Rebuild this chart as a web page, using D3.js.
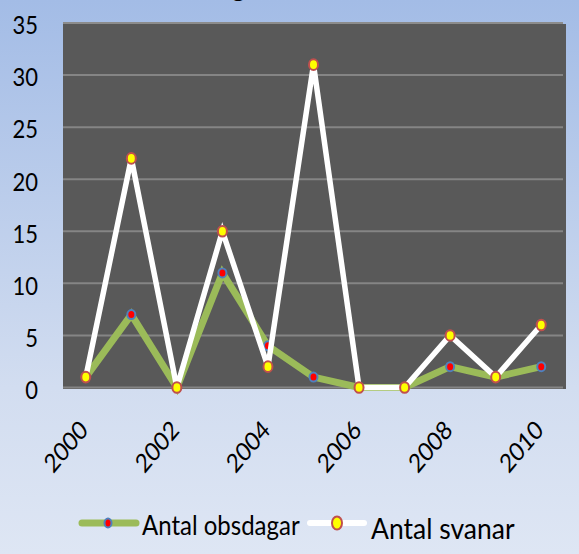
<!DOCTYPE html>
<html>
<head>
<meta charset="utf-8">
<script src="https://cdn.jsdelivr.net/npm/d3@7.9.0/dist/d3.min.js"></script>
<style>
  html, body { margin: 0; padding: 0; }
  body { width: 579px; height: 554px; overflow: hidden; }
  text { font-family: Lato, "Open Sans", sans-serif; fill: #000; }
</style>
</head>
<body>
<svg id="chart" width="579" height="554"></svg>
<script>
const years = [2000, 2001, 2002, 2003, 2004, 2005, 2006, 2007, 2008, 2009, 2010];
const obsdagar = [1, 7, 0, 11, 4, 1, 0, 0, 2, 1, 2];
const svanar = [1, 22, 0, 15, 2, 31, 0, 0, 5, 1, 6];
const yTicks = [0, 5, 10, 15, 20, 25, 30, 35];
const xLabels = [2000, 2002, 2004, 2006, 2008, 2010];
const seriesNames = ['Antal obsdagar', 'Antal svanar'];

const svg = d3.select('#chart');
const W = 579, H = 554;
const plot = { left: 63, right: 566, top: 23, bottom: 388 };
const stretch = 1.18; // the reference text looks stretched vertically

// background gradient
const defs = svg.append('defs');
const grad = defs.append('linearGradient')
  .attr('id', 'bg').attr('x1', 0).attr('y1', 0).attr('x2', 0).attr('y2', 1);
grad.append('stop').attr('offset', '0%').attr('stop-color', '#a3bce6');
grad.append('stop').attr('offset', '70%').attr('stop-color', '#d2ddf0');
grad.append('stop').attr('offset', '100%').attr('stop-color', '#dee6f4');
svg.append('rect').attr('width', W).attr('height', H).attr('fill', 'url(#bg)');

// title (mostly cut off at the top, as in the reference)
svg.append('text')
  .attr('transform', `translate(186,-4) scale(1,${stretch})`)
  .style('font-weight', 'bold')
  .style('font-size', '28px')
  .text('Sångsvan');

const x = d3.scalePoint()
  .domain(years)
  .range([plot.left, plot.right - 2])
  .padding(0.5);
const y = d3.scaleLinear().domain([0, 35]).range([387.5, 23]);

svg.append('rect')
  .attr('x', plot.left).attr('y', 24)
  .attr('width', plot.right - plot.left).attr('height', plot.bottom + 1 - 24)
  .attr('fill', '#595959');

svg.append('g')
  .selectAll('line')
  .data(yTicks)
  .join('line')
  .attr('x1', plot.left).attr('x2', plot.right - 3)
  .attr('y1', (d) => y(d)).attr('y2', (d) => y(d))
  .attr('stroke', (d) => d === 35 ? '#8c8c8c' : '#858585')
  .attr('stroke-width', 2);

svg.append('g')
  .selectAll('text')
  .data(yTicks)
  .join('text')
  .attr('transform', (d) => `translate(38,${y(d) + 2}) scale(1,${stretch})`)
  .attr('dy', '0.36em')
  .attr('text-anchor', 'end')
  .style('font-size', '22px')
  .text((d) => d);

svg.append('g')
  .selectAll('text')
  .data(xLabels)
  .join('text')
  .attr('transform', (d) => `translate(${x(d) - 2},425) scale(1,${stretch}) rotate(-45)`)
  .attr('dy', '0.36em')
  .attr('text-anchor', 'end')
  .style('font-size', '22px')
  .text((d) => d);

const line = d3.line()
  .x((d, i) => x(years[i]))
  .y((d) => y(d));

// green series
svg.append('path')
  .datum(obsdagar)
  .attr('d', line)
  .attr('fill', 'none')
  .attr('stroke', '#9bbb59')
  .attr('stroke-width', 7)
  .attr('stroke-linejoin', 'miter');

svg.append('g')
  .selectAll('ellipse')
  .data(obsdagar)
  .join('ellipse')
  .attr('cx', (d, i) => x(years[i]))
  .attr('cy', (d) => y(d))
  .attr('rx', 4).attr('ry', 4.5)
  .attr('fill', '#ff0000')
  .attr('stroke', '#4f81bd')
  .attr('stroke-width', 2);

// white series
svg.append('path')
  .datum(svanar)
  .attr('d', line)
  .attr('fill', 'none')
  .attr('stroke', '#ffffff')
  .attr('stroke-width', 5.5)
  .attr('stroke-linejoin', 'miter');

svg.append('g')
  .selectAll('ellipse')
  .data(svanar)
  .join('ellipse')
  .attr('cx', (d, i) => x(years[i]))
  .attr('cy', (d) => y(d))
  .attr('rx', 4.5).attr('ry', 5.3)
  .attr('fill', '#ffff00')
  .attr('stroke', '#c0504d')
  .attr('stroke-width', 2);

// legend
const legend = svg.append('g');
legend.append('line')
  .attr('x1', 82).attr('x2', 136).attr('y1', 523).attr('y2', 523)
  .attr('stroke', '#9bbb59').attr('stroke-width', 7).attr('stroke-linecap', 'round');
legend.append('ellipse')
  .attr('cx', 108).attr('cy', 523).attr('rx', 3.5).attr('ry', 4.5)
  .attr('fill', '#ff0000').attr('stroke', '#4f81bd').attr('stroke-width', 2);
legend.append('text')
  .attr('transform', `translate(142,535) scale(1,1.1)`)
  .style('font-size', '24px')
  .text(seriesNames[0]);

legend.append('line')
  .attr('x1', 310).attr('x2', 364).attr('y1', 523).attr('y2', 523)
  .attr('stroke', '#ffffff').attr('stroke-width', 6).attr('stroke-linecap', 'round');
legend.append('ellipse')
  .attr('cx', 337).attr('cy', 523).attr('rx', 5).attr('ry', 6.5)
  .attr('fill', '#ffff00').attr('stroke', '#c0504d').attr('stroke-width', 2);
legend.append('text')
  .attr('transform', `translate(371,539) scale(1,1.1)`)
  .style('font-size', '26.5px')
  .text(seriesNames[1]);
</script>
</body>
</html>
